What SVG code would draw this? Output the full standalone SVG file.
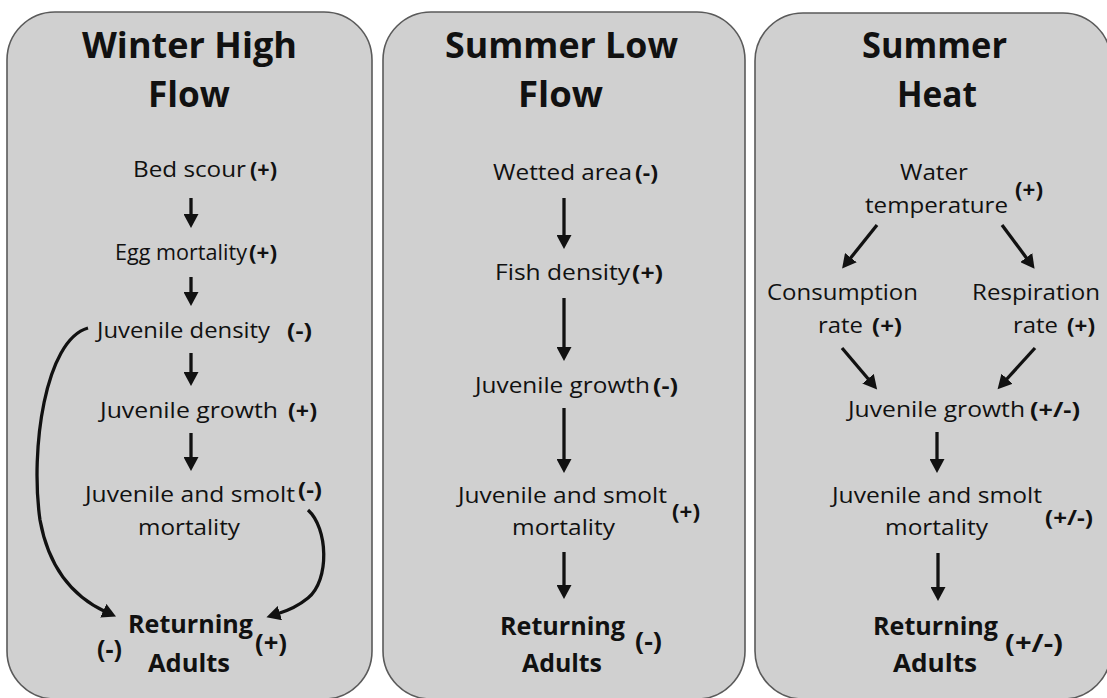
<svg xmlns="http://www.w3.org/2000/svg" width="1107" height="698" viewBox="0 0 1107 698">
<style>
.panel{fill:#d0d0d0;stroke:#5a5a5a;stroke-width:1.6}
text{font-family:"Open Sans","Liberation Sans",sans-serif;fill:#111}
.t{font-size:35px;font-weight:700}
.b{font-size:22px;font-weight:400}
.s{font-size:22px;font-weight:700}
.r{font-size:25px;font-weight:700}
.c{fill:none;stroke:#111;stroke-width:3.3}
</style>
<defs>
<marker id="ah" markerUnits="userSpaceOnUse" markerWidth="15" markerHeight="15" refX="3" refY="7.5" orient="auto">
<path d="M0,0 L14,7.5 L0,15 z" fill="#111"/>
</marker>
</defs>
<rect width="1107" height="698" fill="#fff"/>

<g id="panel-winter">
<rect class="panel" x="7" y="12" width="365" height="687" rx="48"/>
<text class="t" x="82" y="58" textLength="215" lengthAdjust="spacingAndGlyphs">Winter High</text>
<text class="t" x="148" y="107" textLength="82" lengthAdjust="spacingAndGlyphs">Flow</text>
</g>
<g id="w-bedscour"><text class="b" x="133" y="177" textLength="113" lengthAdjust="spacingAndGlyphs">Bed scour</text><text class="s" x="250" y="177" textLength="27" lengthAdjust="spacingAndGlyphs">(+)</text></g>
<g id="w-egg"><text class="b" x="115" y="260" textLength="132" lengthAdjust="spacingAndGlyphs">Egg mortality</text><text class="s" x="249" y="260" textLength="28" lengthAdjust="spacingAndGlyphs">(+)</text></g>
<g id="w-density"><text class="b" x="97" y="338" textLength="173" lengthAdjust="spacingAndGlyphs">Juvenile density</text><text class="s" x="287" y="338" textLength="25" lengthAdjust="spacingAndGlyphs">(-)</text></g>
<g id="w-growth"><text class="b" x="100" y="418" textLength="178" lengthAdjust="spacingAndGlyphs">Juvenile growth</text><text class="s" x="288" y="418" textLength="29" lengthAdjust="spacingAndGlyphs">(+)</text></g>
<g id="w-mortality"><text class="b" x="85" y="502" textLength="210" lengthAdjust="spacingAndGlyphs">Juvenile and smolt</text><text class="b" x="138" y="535" textLength="102" lengthAdjust="spacingAndGlyphs">mortality</text><text class="s" x="298" y="497" textLength="24" lengthAdjust="spacingAndGlyphs">(-)</text></g>
<g id="w-adults"><text class="r" x="128" y="633" textLength="125" lengthAdjust="spacingAndGlyphs">Returning</text><text class="r" x="148" y="672" textLength="82" lengthAdjust="spacingAndGlyphs">Adults</text><text class="r" x="97" y="658" textLength="25" lengthAdjust="spacingAndGlyphs">(-)</text><text class="r" x="255" y="652" textLength="32" lengthAdjust="spacingAndGlyphs">(+)</text></g>

<g id="panel-lowflow">
<rect class="panel" x="383" y="12" width="362" height="687" rx="48"/>
<text class="t" x="445" y="58" textLength="233" lengthAdjust="spacingAndGlyphs">Summer Low</text>
<text class="t" x="518" y="107" textLength="85" lengthAdjust="spacingAndGlyphs">Flow</text>
</g>
<g id="l-wetted"><text class="b" x="493" y="180" textLength="139" lengthAdjust="spacingAndGlyphs">Wetted area</text><text class="s" x="635" y="180" textLength="23" lengthAdjust="spacingAndGlyphs">(-)</text></g>
<g id="l-fish"><text class="b" x="495" y="280" textLength="135" lengthAdjust="spacingAndGlyphs">Fish density</text><text class="s" x="632" y="280" textLength="31" lengthAdjust="spacingAndGlyphs">(+)</text></g>
<g id="l-growth"><text class="b" x="475" y="393" textLength="175" lengthAdjust="spacingAndGlyphs">Juvenile growth</text><text class="s" x="653" y="393" textLength="25" lengthAdjust="spacingAndGlyphs">(-)</text></g>
<g id="l-mortality"><text class="b" x="458" y="503" textLength="209" lengthAdjust="spacingAndGlyphs">Juvenile and smolt</text><text class="b" x="512" y="535" textLength="103" lengthAdjust="spacingAndGlyphs">mortality</text><text class="s" x="672" y="519" textLength="28" lengthAdjust="spacingAndGlyphs">(+)</text></g>
<g id="l-adults"><text class="r" x="500" y="635" textLength="125" lengthAdjust="spacingAndGlyphs">Returning</text><text class="r" x="522" y="672" textLength="80" lengthAdjust="spacingAndGlyphs">Adults</text><text class="r" x="635" y="650" textLength="27" lengthAdjust="spacingAndGlyphs">(-)</text></g>

<g id="panel-heat">
<rect class="panel" x="755" y="13" width="356" height="686" rx="48"/>
<text class="t" x="862" y="58" textLength="145" lengthAdjust="spacingAndGlyphs">Summer</text>
<text class="t" x="897" y="107" textLength="80" lengthAdjust="spacingAndGlyphs">Heat</text>
</g>
<g id="h-water"><text class="b" x="900" y="180" textLength="68" lengthAdjust="spacingAndGlyphs">Water</text><text class="b" x="865" y="213" textLength="143" lengthAdjust="spacingAndGlyphs">temperature</text><text class="s" x="1015" y="197" textLength="28" lengthAdjust="spacingAndGlyphs">(+)</text></g>
<g id="h-consumption"><text class="b" x="767" y="300" textLength="151" lengthAdjust="spacingAndGlyphs">Consumption</text><text class="b" x="818" y="333" textLength="45" lengthAdjust="spacingAndGlyphs">rate</text><text class="s" x="872" y="333" textLength="30" lengthAdjust="spacingAndGlyphs">(+)</text></g>
<g id="h-respiration"><text class="b" x="972" y="300" textLength="128" lengthAdjust="spacingAndGlyphs">Respiration</text><text class="b" x="1013" y="333" textLength="45" lengthAdjust="spacingAndGlyphs">rate</text><text class="s" x="1067" y="333" textLength="28" lengthAdjust="spacingAndGlyphs">(+)</text></g>
<g id="h-growth"><text class="b" x="848" y="417" textLength="177" lengthAdjust="spacingAndGlyphs">Juvenile growth</text><text class="s" x="1030" y="417" textLength="50" lengthAdjust="spacingAndGlyphs">(+/-)</text></g>
<g id="h-mortality"><text class="b" x="832" y="503" textLength="210" lengthAdjust="spacingAndGlyphs">Juvenile and smolt</text><text class="b" x="885" y="535" textLength="103" lengthAdjust="spacingAndGlyphs">mortality</text><text class="s" x="1045" y="525" textLength="48" lengthAdjust="spacingAndGlyphs">(+/-)</text></g>
<g id="h-adults"><text class="r" x="873" y="635" textLength="125" lengthAdjust="spacingAndGlyphs">Returning</text><text class="r" x="893" y="672" textLength="84" lengthAdjust="spacingAndGlyphs">Adults</text><text class="r" x="1005" y="652" textLength="58" lengthAdjust="spacingAndGlyphs">(+/-)</text></g>

<g id="connectors">
<line class="c" x1="191" y1="198" x2="191" y2="217" marker-end="url(#ah)"/>
<line class="c" x1="191" y1="277" x2="191" y2="295" marker-end="url(#ah)"/>
<line class="c" x1="191" y1="353" x2="191" y2="375" marker-end="url(#ah)"/>
<line class="c" x1="191" y1="433" x2="191" y2="460" marker-end="url(#ah)"/>
<path class="c" d="M88,328 C45,340 30,450 40,520 C50,575 80,600 106,612" marker-end="url(#ah)"/>
<path class="c" d="M308,510 C328,528 330,580 308,598 C297,607 287,611 277,614" marker-end="url(#ah)"/>

<line class="c" x1="564" y1="198" x2="564" y2="238" marker-end="url(#ah)"/>
<line class="c" x1="564" y1="298" x2="564" y2="350" marker-end="url(#ah)"/>
<line class="c" x1="564" y1="408" x2="564" y2="462" marker-end="url(#ah)"/>
<line class="c" x1="564" y1="552" x2="564" y2="588" marker-end="url(#ah)"/>

<line class="c" x1="877" y1="225" x2="849" y2="260" marker-end="url(#ah)"/>
<line class="c" x1="1002" y1="225" x2="1028" y2="260" marker-end="url(#ah)"/>
<line class="c" x1="842" y1="348" x2="870" y2="381" marker-end="url(#ah)"/>
<line class="c" x1="1035" y1="348" x2="1005" y2="381" marker-end="url(#ah)"/>
<line class="c" x1="937" y1="432" x2="937" y2="462" marker-end="url(#ah)"/>
<line class="c" x1="938" y1="553" x2="938" y2="590" marker-end="url(#ah)"/>
</g>
</svg>
